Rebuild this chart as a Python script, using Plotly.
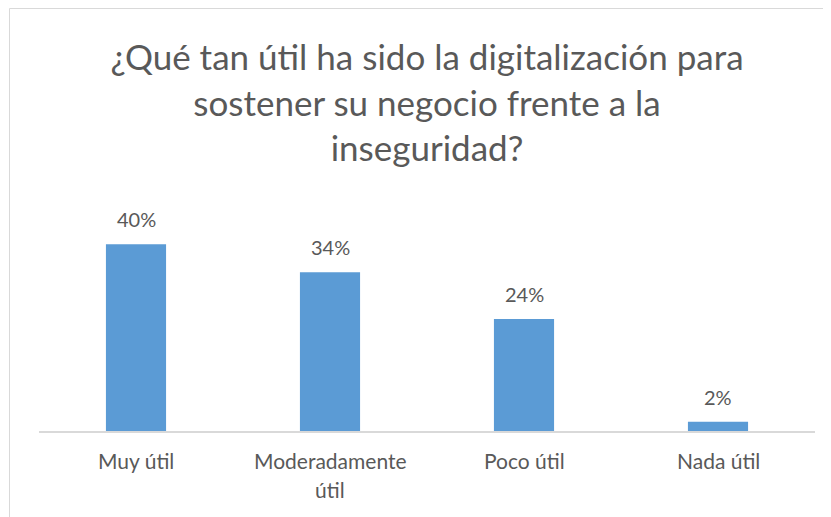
import plotly.graph_objects as go

categories = ["Muy útil", "Moderadamente<br>útil", "Poco útil", "Nada útil"]
values = [40, 34, 24, 2]
labels = ["40%", "34%", "24%", "2%"]
title_text = "¿Qué tan útil ha sido la digitalización para<br>sostener su negocio frente a la<br>inseguridad?"

# page body has an 8px margin; figure is sized to fit the 831x517 window
OFF = 8
W, H = 831 - OFF, 517 - OFF
L, R, T, B = 31, 16, 213, 86
pw, ph = W - L - R, H - T - B
FONT = "Lato"
GRAY = "#595959"

def px(x):
    return (x - OFF - L) / pw

def py(y):
    return (H - B - (y - OFF)) / ph

fig = go.Figure()
fig.add_trace(go.Bar(
    x=categories, y=values, width=0.31,
    marker=dict(color="#5B9BD5", line=dict(width=0)),
    hoverinfo="skip",
))

for c, v, t in zip(categories, values, labels):
    fig.add_annotation(x=c, y=v, text=t, showarrow=False, yanchor="bottom",
                       yshift=11, font=dict(size=20, color=GRAY, family=FONT))

for c in categories:
    for k, line in enumerate(c.split("<br>")):
        fig.add_annotation(x=c, y=0, text=line, showarrow=False, yanchor="top",
                           yshift=-15 - 29 * k, font=dict(size=21, color=GRAY, family=FONT))

fig.add_shape(type="rect", xref="paper", yref="paper",
              x0=px(9.5), x1=px(860), y0=py(8.5), y1=py(560),
              line=dict(color="#D9D9D9", width=1), fillcolor="rgba(0,0,0,0)", layer="below")

fig.update_layout(
    width=W, height=H,
    margin=dict(l=L, r=R, t=T, b=B, pad=0),
    paper_bgcolor="white", plot_bgcolor="white",
    showlegend=False,
    font=dict(family=FONT, color=GRAY),
    title=dict(text=title_text, x=0.5, xanchor="center", xref="paper",
               y=1 - (70 - OFF) / H, yanchor="middle", yref="container",
               font=dict(size=35, color=GRAY, family=FONT)),
    xaxis=dict(showline=True, linecolor="#D9D9D9", linewidth=1.5, ticks="",
               showticklabels=False, showgrid=False, zeroline=False, fixedrange=True),
    yaxis=dict(range=[0, 45], visible=False, showgrid=False, zeroline=False, fixedrange=True),
)

fig.write_html("out.html")
